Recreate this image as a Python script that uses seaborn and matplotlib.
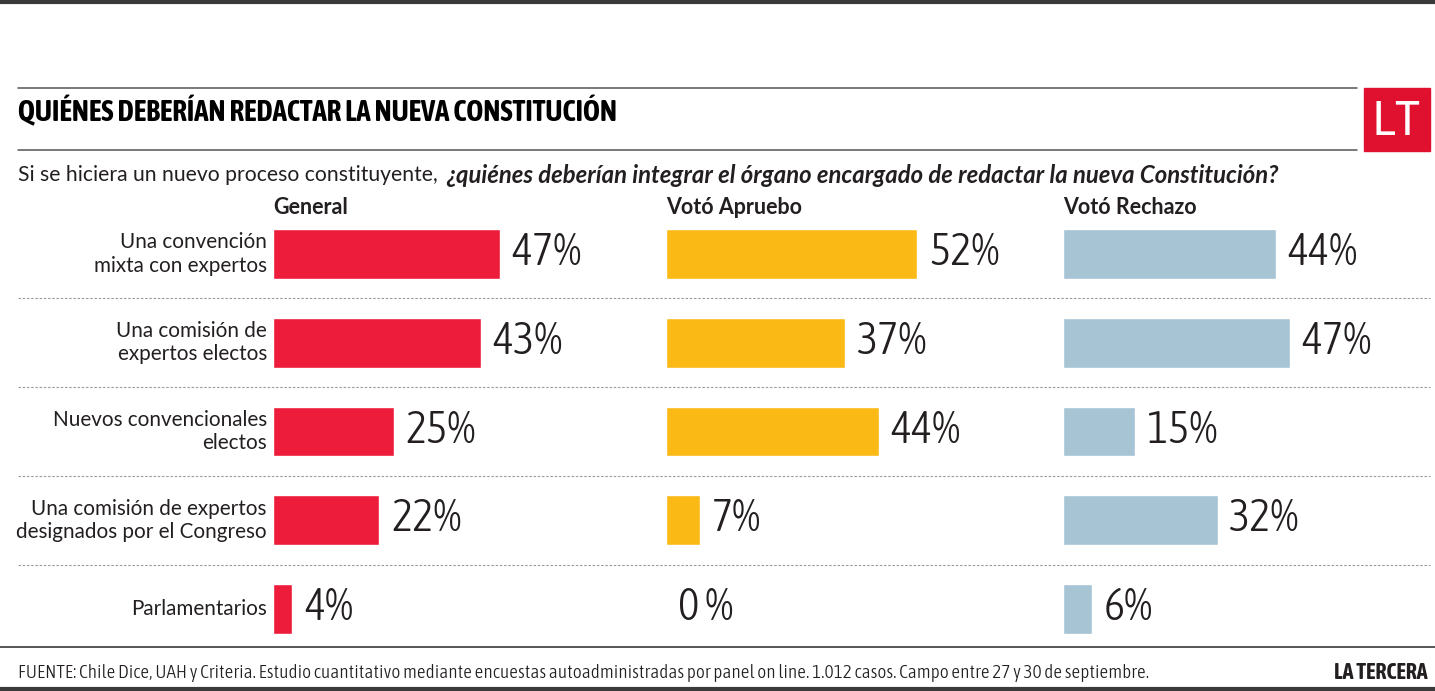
import pandas as pd
import seaborn as sns
import matplotlib.pyplot as plt
import matplotlib.transforms as mtransforms
from matplotlib import font_manager as fm
from matplotlib.patches import Rectangle

# data
categories = [
    "Una convención\nmixta con expertos",
    "Una comisión de\nexpertos electos",
    "Nuevos convencionales\nelectos",
    "Una comisión de expertos\ndesignados por el Congreso",
    "Parlamentarios",
]
general = [47, 43, 25, 22, 4]
aprueba = [52, 37, 44, 7, 0]
rechaza = [44, 47, 15, 32, 6]
panel_titles = ["General", "Votó Apruebo", "Votó Rechazo"]
panel_colors = ["#ED1C3A", "#FBB916", "#A6C4D3"]

W, H = 1435, 691
INK = "#231F20"


def _w(v):
    return fm.weight_dict.get(v, 400) if isinstance(v, str) else int(v)


# look for a condensed face among the installed fonts (DejaVu only as last resort)
_cond = [f for f in fm.fontManager.ttflist
         if any(k in (f.name + f.fname).lower() for k in ("condensed", "narrow"))
         and f.style == "normal"]


def cond_font(size, bold=False, light=False):
    pool = [f for f in _cond if (_w(f.weight) >= 600) == bold]
    target = 700 if bold else (300 if light else 400)
    pool.sort(key=lambda f: ("dejavu" in f.name.lower(), abs(_w(f.weight) - target)))
    if pool:
        return fm.FontProperties(fname=pool[0].fname, size=size), True
    return None, False


sns.set_theme(style="white")
plt.rcParams["font.family"] = ["Lato", "DejaVu Sans"]

fig = plt.figure(figsize=(W / 100, H / 100), dpi=100)
fig.patch.set_facecolor("white")
renderer = fig.canvas.get_renderer()


def fit_width(t, target):
    # scale a text so it spans the same width as in the reference
    w = t.get_window_extent(renderer).width
    t.set_fontsize(t.get_fontsize() * target / w)
    return t.get_fontsize()


# background axes in pixel coordinates for the page furniture
bg = fig.add_axes([0, 0, 1, 1], zorder=0)
bg.set_xlim(0, W)
bg.set_ylim(H, 0)
bg.axis("off")


def px_rect(x0, y0, w, h):
    return [x0 / W, (H - y0 - h) / H, w / W, h / H]


num_fp, ok = cond_font(32.5, light=True)
if not ok:
    num_fp = fm.FontProperties(family=["Roboto", "DejaVu Sans"], weight="light", size=27)

# three panels share the same scale: ~4.83 px per percentage point
scale = 4.83
row_top, row_h = 209.6, 88.75
panels = [(273, 380), (666, 380), (1063, 370)]
axes = []
for (x0, w), vals, color, title in zip(panels, [general, aprueba, rechaza], panel_colors, panel_titles):
    ax = fig.add_axes(px_rect(x0, row_top, w, row_h * 5), zorder=2)
    df = pd.DataFrame({"cat": categories, "val": vals})
    sns.barplot(data=df, x="val", y="cat", orient="h", color=color,
                saturation=1, width=0.56, ax=ax)
    ax.set_xlim(0, w / scale)
    ax.set_ylim(4.5, -0.5)
    ax.axis("off")
    for i, v in enumerate(vals):
        label = f"{v}%" if v else "0 %"
        ax.annotate(label, xy=(v, i), xytext=(8.5, 1), textcoords="offset points",
                    ha="left", va="center", color=INK, fontproperties=num_fp)
    bg.text(x0, 207, title, ha="left", va="center", fontsize=15.5,
            fontweight="bold", color=INK)
    axes.append(ax)

# category labels, right aligned against the first panel
cat_texts = []
for i, cat in enumerate(categories):
    t = axes[0].annotate(cat, xy=(0, i), xycoords=("axes fraction", "data"),
                         xytext=(-4.5, 0), textcoords="offset points",
                         ha="right", va="center", fontsize=13.4, color=INK,
                         linespacing=1.2)
    cat_texts.append(t)
cat_size = fit_width(cat_texts[3], 250)
for t in cat_texts:
    t.set_fontsize(cat_size)

# dotted separators between rows
blend = mtransforms.blended_transform_factory(bg.transData, axes[0].transData)
for i in range(len(categories) - 1):
    bg.plot([18, 1430], [i + 0.5, i + 0.5], transform=blend, clip_on=False,
            color="#9A9A9A", lw=0.8, ls=(0, (2.2, 1.6)))

# rules
bg.plot([0, W], [1.5, 1.5], color="#3A3A3A", lw=3)
bg.plot([18, 1357], [88, 88], color="#555555", lw=1.1)
bg.plot([18, 1357], [150, 150], color="#555555", lw=1.1)
bg.plot([0, W], [647, 647], color="#555555", lw=1.4)
bg.plot([0, W], [689, 689], color="#3A3A3A", lw=3)

# LT logo
bg.add_patch(Rectangle((1364, 88), 66, 63, color="#E0102F"))
logo_fp, ok = cond_font(40)
if not ok:
    logo_fp = fm.FontProperties(family=["Roboto", "DejaVu Sans"], size=33)
logo = bg.text(1397, 121, "LT", ha="center", va="center", color="white",
               fontproperties=logo_fp)
fit_width(logo, 48)

# title
title_fp, ok = cond_font(18, bold=True)
if not ok:
    title_fp = fm.FontProperties(family=["Lato", "DejaVu Sans"], weight="heavy", size=15.5)
title = bg.text(18, 112, "QUIÉNES DEBERÍAN REDACTAR LA NUEVA CONSTITUCIÓN", ha="left",
                va="center", color="black", fontproperties=title_fp)
fit_width(title, 594)

# subtitle in two styles
t1 = bg.text(18, 175, "Si se hiciera un nuevo proceso constituyente,", ha="left",
             va="center", fontsize=15.3, color=INK)
fit_width(t1, 419)
bb = t1.get_window_extent(renderer)
t2 = bg.text(bb.x1 + 8, 175, "¿quiénes deberían integrar el órgano encargado de redactar la nueva Constitución?",
             ha="left", va="center", fontsize=17, fontweight="bold", fontstyle="italic",
             color=INK)
fit_width(t2, 1278 - bb.x1 - 8)

# footer
foot_fp, ok = cond_font(12, light=True)
if not ok:
    foot_fp = fm.FontProperties(family=["Lato", "DejaVu Sans"], size=11.5)
foot = bg.text(18, 673, "FUENTE: Chile Dice, UAH y Criteria. Estudio cuantitativo mediante encuestas "
               "autoadministradas por panel on line. 1.012 casos. Campo entre 27 y 30 de septiembre.",
               ha="left", va="center", color=INK, fontproperties=foot_fp)
fit_width(foot, 1128)
brand_fp, ok = cond_font(13, bold=True)
if not ok:
    brand_fp = fm.FontProperties(family=["Lato", "DejaVu Sans"], weight="bold", size=12)
brand = bg.text(1428, 673, "LA TERCERA", ha="right", va="center", color=INK,
                fontproperties=brand_fp)
fit_width(brand, 93)

fig.savefig("out.png", dpi=100)
